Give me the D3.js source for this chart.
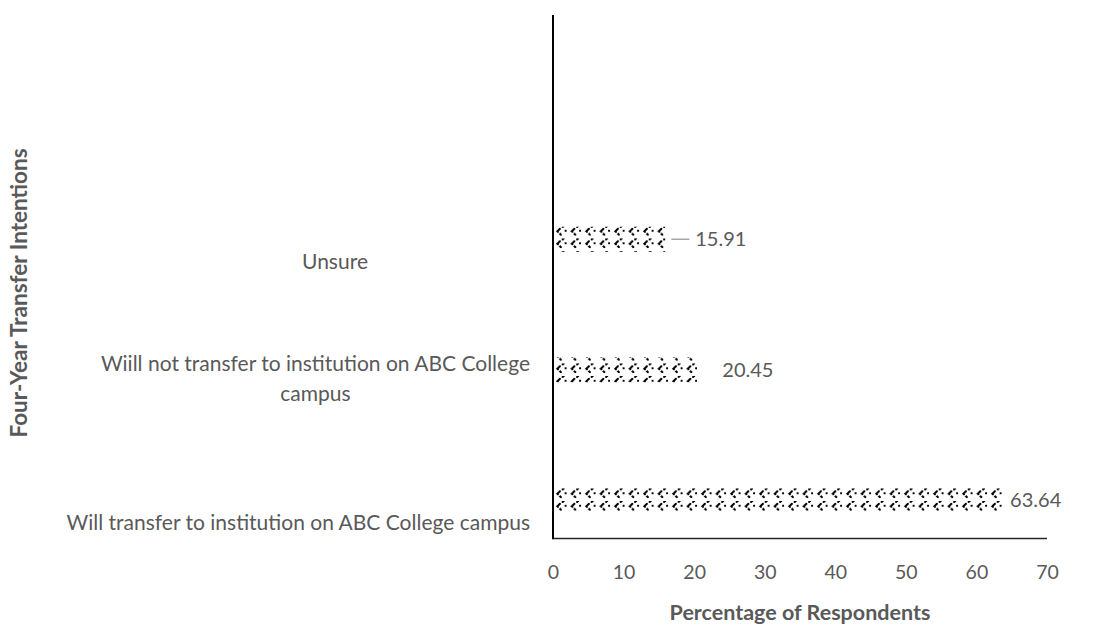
<!DOCTYPE html>
<html>
<head>
<meta charset="utf-8">
<script src="https://cdn.jsdelivr.net/npm/d3@7"></script>
<style>
  html, body { margin: 0; padding: 0; background: #fff; }
  svg { display: block; font-family: Lato, "Liberation Sans", sans-serif; }
</style>
</head>
<body>
<svg id="chart" width="1099" height="635"></svg>
<script>
// Survey results: four-year transfer intentions
const categories = [
  "Will transfer to institution on ABC College campus",
  "Wiill not transfer to institution on ABC College campus",
  "Unsure"
];
const categoryLines = [
  ["Will transfer to institution on ABC College campus"],
  ["Wiill not transfer to institution on ABC College", "campus"],
  ["Unsure"]
];
const percentages = [63.64, 20.45, 15.91];
const xTicks = [0, 10, 20, 30, 40, 50, 60, 70];
const xTitle = "Percentage of Respondents";
const yTitle = "Four-Year Transfer Intentions";

const svg = d3.select("#chart");
const textColor = "#595959";

const plot = { left: 553, right: 1047, top: 15, bottom: 538.5 };

const x = d3.scaleLinear().domain([0, 70]).range([plot.left, plot.right]);
const y = d3.scaleBand()
  .domain(categories)
  .range([565.5, 174]);

// Zigzag hatch used to fill the bars
const defs = svg.append("defs");
const pat = defs.append("pattern")
  .attr("id", "zigzag")
  .attr("patternUnits", "userSpaceOnUse")
  .attr("width", 14.5)
  .attr("height", 12.5)
  .attr("x", plot.left + 1)
  .attr("y", 0);
pat.append("rect").attr("width", 14.5).attr("height", 12.5).attr("fill", "#fff");
pat.append("path")
  .attr("d", "M10,1 L3,6 L8,11 M3,6 L7,3.5 M11,6 L13,6")
  .attr("fill", "none")
  .attr("stroke", "#000")
  .attr("stroke-width", 1.6)
  .attr("stroke-dasharray", "3,1")
  .attr("shape-rendering", "crispEdges");

const barH = 25;
const barY = d => y(d) + y.bandwidth() / 2 - barH / 2;

// Bars
svg.append("g").selectAll("rect")
  .data(categories)
  .join("rect")
  .attr("x", x(0))
  .attr("y", d => barY(d))
  .attr("width", (d, i) => x(percentages[i]) - x(0))
  .attr("height", barH)
  .attr("fill", "url(#zigzag)");

// Value labels; the shortest bar gets a leader line to its label
const labelGap = [8, 25, 30];
const leader = [false, false, true];
categories.forEach((c, i) => {
  const cy = y(c) + y.bandwidth() / 2;
  const xEnd = x(percentages[i]);
  const lx = xEnd + labelGap[i];
  if (leader[i]) {
    svg.append("line")
      .attr("x1", xEnd + 6).attr("x2", lx - 6)
      .attr("y1", cy).attr("y2", cy)
      .attr("stroke", "#a6a6a6").attr("stroke-width", 1.5);
  }
  svg.append("text")
    .attr("x", lx)
    .attr("y", cy)
    .attr("dy", "0.35em")
    .attr("fill", textColor)
    .attr("font-size", 20)
    .text(percentages[i].toFixed(2));
});

// X axis
const xAxis = d3.axisBottom(x).tickValues(xTicks).tickSize(0).tickPadding(27);
const gx = svg.append("g")
  .attr("transform", `translate(0,${plot.bottom})`)
  .call(xAxis);
gx.select(".domain").remove();
gx.selectAll("text")
  .attr("fill", textColor)
  .attr("font-size", 19.5)
  .attr("font-family", "Lato, sans-serif");

// Axis lines
svg.append("line")
  .attr("x1", plot.left).attr("x2", plot.right)
  .attr("y1", plot.bottom).attr("y2", plot.bottom)
  .attr("stroke", "#262626").attr("stroke-width", 1.5);
svg.append("line")
  .attr("x1", plot.left).attr("x2", plot.left)
  .attr("y1", plot.top).attr("y2", plot.bottom + 0.75)
  .attr("stroke", "#000").attr("stroke-width", 2);

// Category labels, centred in the label column unless too wide for it
const labelCenter = 335;
const labelRight = 530;
categories.forEach((c, i) => {
  const cy = y(c) + y.bandwidth() / 2;
  const lines = categoryLines[i];
  const t = svg.append("text")
    .attr("fill", textColor)
    .attr("font-size", 21)
    .attr("text-anchor", "middle");
  lines.forEach((ln, j) => {
    t.append("tspan")
      .attr("x", labelCenter)
      .attr("y", lines.length > 1 ? cy - 6 + j * 30 : cy + 22)
      .attr("dy", "0.35em")
      .text(ln);
  });
  const w = t.node().getBBox().width;
  if (labelCenter + w / 2 > labelRight) {
    t.selectAll("tspan").attr("x", labelRight - w / 2);
  }
});

// Axis titles
svg.append("text")
  .attr("x", 800)
  .attr("y", 612)
  .attr("dy", "0.35em")
  .attr("text-anchor", "middle")
  .attr("fill", textColor)
  .attr("font-size", 21.5)
  .attr("font-weight", "bold")
  .text(xTitle);

svg.append("text")
  .attr("transform", "translate(19,293) rotate(-90)")
  .attr("dy", "0.35em")
  .attr("text-anchor", "middle")
  .attr("fill", textColor)
  .attr("font-size", 22.5)
  .attr("font-weight", "bold")
  .text(yTitle);
</script>
</body>
</html>
